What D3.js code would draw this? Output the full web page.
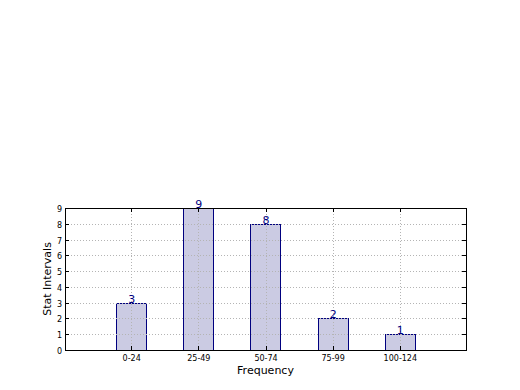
<!DOCTYPE html>
<html>
<head>
<meta charset="utf-8">
<script src="https://cdn.jsdelivr.net/npm/d3@7"></script>
<style>
body { margin: 0; background: #fff; }
text { font-family: "DejaVu Sans", sans-serif; }
</style>
</head>
<body>
<svg id="chart"></svg>
<script>
// data
var categories = ["0-24", "25-49", "50-74", "75-99", "100-124"];
var counts = [3, 9, 8, 2, 1];
var yTicks = [0, 1, 2, 3, 4, 5, 6, 7, 8, 9];

var W = 520, H = 390;
// plot box (window.top is reserved, so prefixed names)
var pLeft = 65, pRight = 466, pTop = 208, pBottom = 350;

var svg = d3.select("svg#chart")
    .attr("width", W)
    .attr("height", H);

var x = d3.scaleLinear()
    .domain([0, 6])
    .range([pLeft - 1, pRight + 1]);

var y = d3.scaleLinear()
    .domain([0, 9])
    .range([pBottom, pTop]);

var barW = x(0.45) - x(0);

// bars
svg.selectAll("rect.bar")
    .data(counts)
    .enter().append("rect")
    .attr("class", "bar")
    .attr("x", function(d, i) { return Math.round(x(i + 1) - barW / 2) + 0.5 })
    .attr("y", function(d) { return Math.round(y(d)) + 0.5 })
    .attr("width", Math.round(barW))
    .attr("height", function(d) { return Math.round(pBottom - y(d)) })
    .attr("fill", "#cbcbe3")
    .attr("stroke", "#00007f")
    .attr("stroke-width", 1);

// dotted grid, drawn above bars like matplotlib
var grid = svg.append("g");
grid.selectAll("line.gy")
    .data(yTicks)
    .enter().append("line")
    .attr("x1", pLeft).attr("x2", pRight)
    .attr("y1", function(d) { return Math.round(y(d)) + 0.5 })
    .attr("y2", function(d) { return Math.round(y(d)) + 0.5 })
    .attr("stroke", "#b4b4b4")
    .attr("stroke-dasharray", "1,2");

grid.selectAll("line.gx")
    .data(categories)
    .enter().append("line")
    .attr("x1", function(d, i) { return Math.round(x(i + 1)) + 0.5 })
    .attr("x2", function(d, i) { return Math.round(x(i + 1)) + 0.5 })
    .attr("y1", pTop).attr("y2", pBottom)
    .attr("stroke", "#b4b4b4")
    .attr("stroke-dasharray", "1,2");

// value labels
svg.selectAll("text.val")
    .data(counts)
    .enter().append("text")
    .attr("x", function(d, i) { return x(i + 1) + 0.5 })
    .attr("y", function(d) { return y(d) })
    .attr("text-anchor", "middle")
    .attr("font-size", 11)
    .attr("fill", "#00007f")
    .text(function(d) { return d });

// frame
svg.append("rect")
    .attr("x", pLeft + 0.5).attr("y", pTop + 0.5)
    .attr("width", pRight - pLeft).attr("height", pBottom - pTop)
    .attr("fill", "none")
    .attr("stroke", "#000")
    .attr("stroke-width", 1);

// ticks (inward, both sides)
var ticks = svg.append("g");
yTicks.forEach(function(t) {
    var yy = Math.round(y(t)) + 0.5;
    ticks.append("line")
        .attr("x1", pLeft).attr("x2", pLeft + 4)
        .attr("y1", yy).attr("y2", yy)
        .attr("stroke", "#000");
    ticks.append("line")
        .attr("x1", pRight - 4).attr("x2", pRight)
        .attr("y1", yy).attr("y2", yy)
        .attr("stroke", "#000");
    ticks.append("text")
        .attr("x", pLeft - 3)
        .attr("y", yy + 3)
        .attr("text-anchor", "end")
        .attr("font-size", 8)
        .text(t);
});
categories.forEach(function(c, i) {
    var xx = Math.round(x(i + 1)) + 0.5;
    ticks.append("line")
        .attr("x1", xx).attr("x2", xx)
        .attr("y1", pBottom - 4).attr("y2", pBottom)
        .attr("stroke", "#000");
    ticks.append("line")
        .attr("x1", xx).attr("x2", xx)
        .attr("y1", pTop).attr("y2", pTop + 4)
        .attr("stroke", "#000");
    ticks.append("text")
        .attr("x", x(i + 1) + 0.5)
        .attr("y", pBottom + 11)
        .attr("text-anchor", "middle")
        .attr("font-size", 8)
        .text(c);
});

// axis labels
svg.append("text")
    .attr("x", (pLeft + pRight) / 2)
    .attr("y", 374)
    .attr("text-anchor", "middle")
    .attr("font-size", 11)
    .text("Frequency");

svg.append("text")
    .attr("transform", "translate(51," + ((pTop + pBottom) / 2) + ") rotate(-90)")
    .attr("text-anchor", "middle")
    .attr("font-size", 11)
    .text("Stat Intervals");
</script>
</body>
</html>
